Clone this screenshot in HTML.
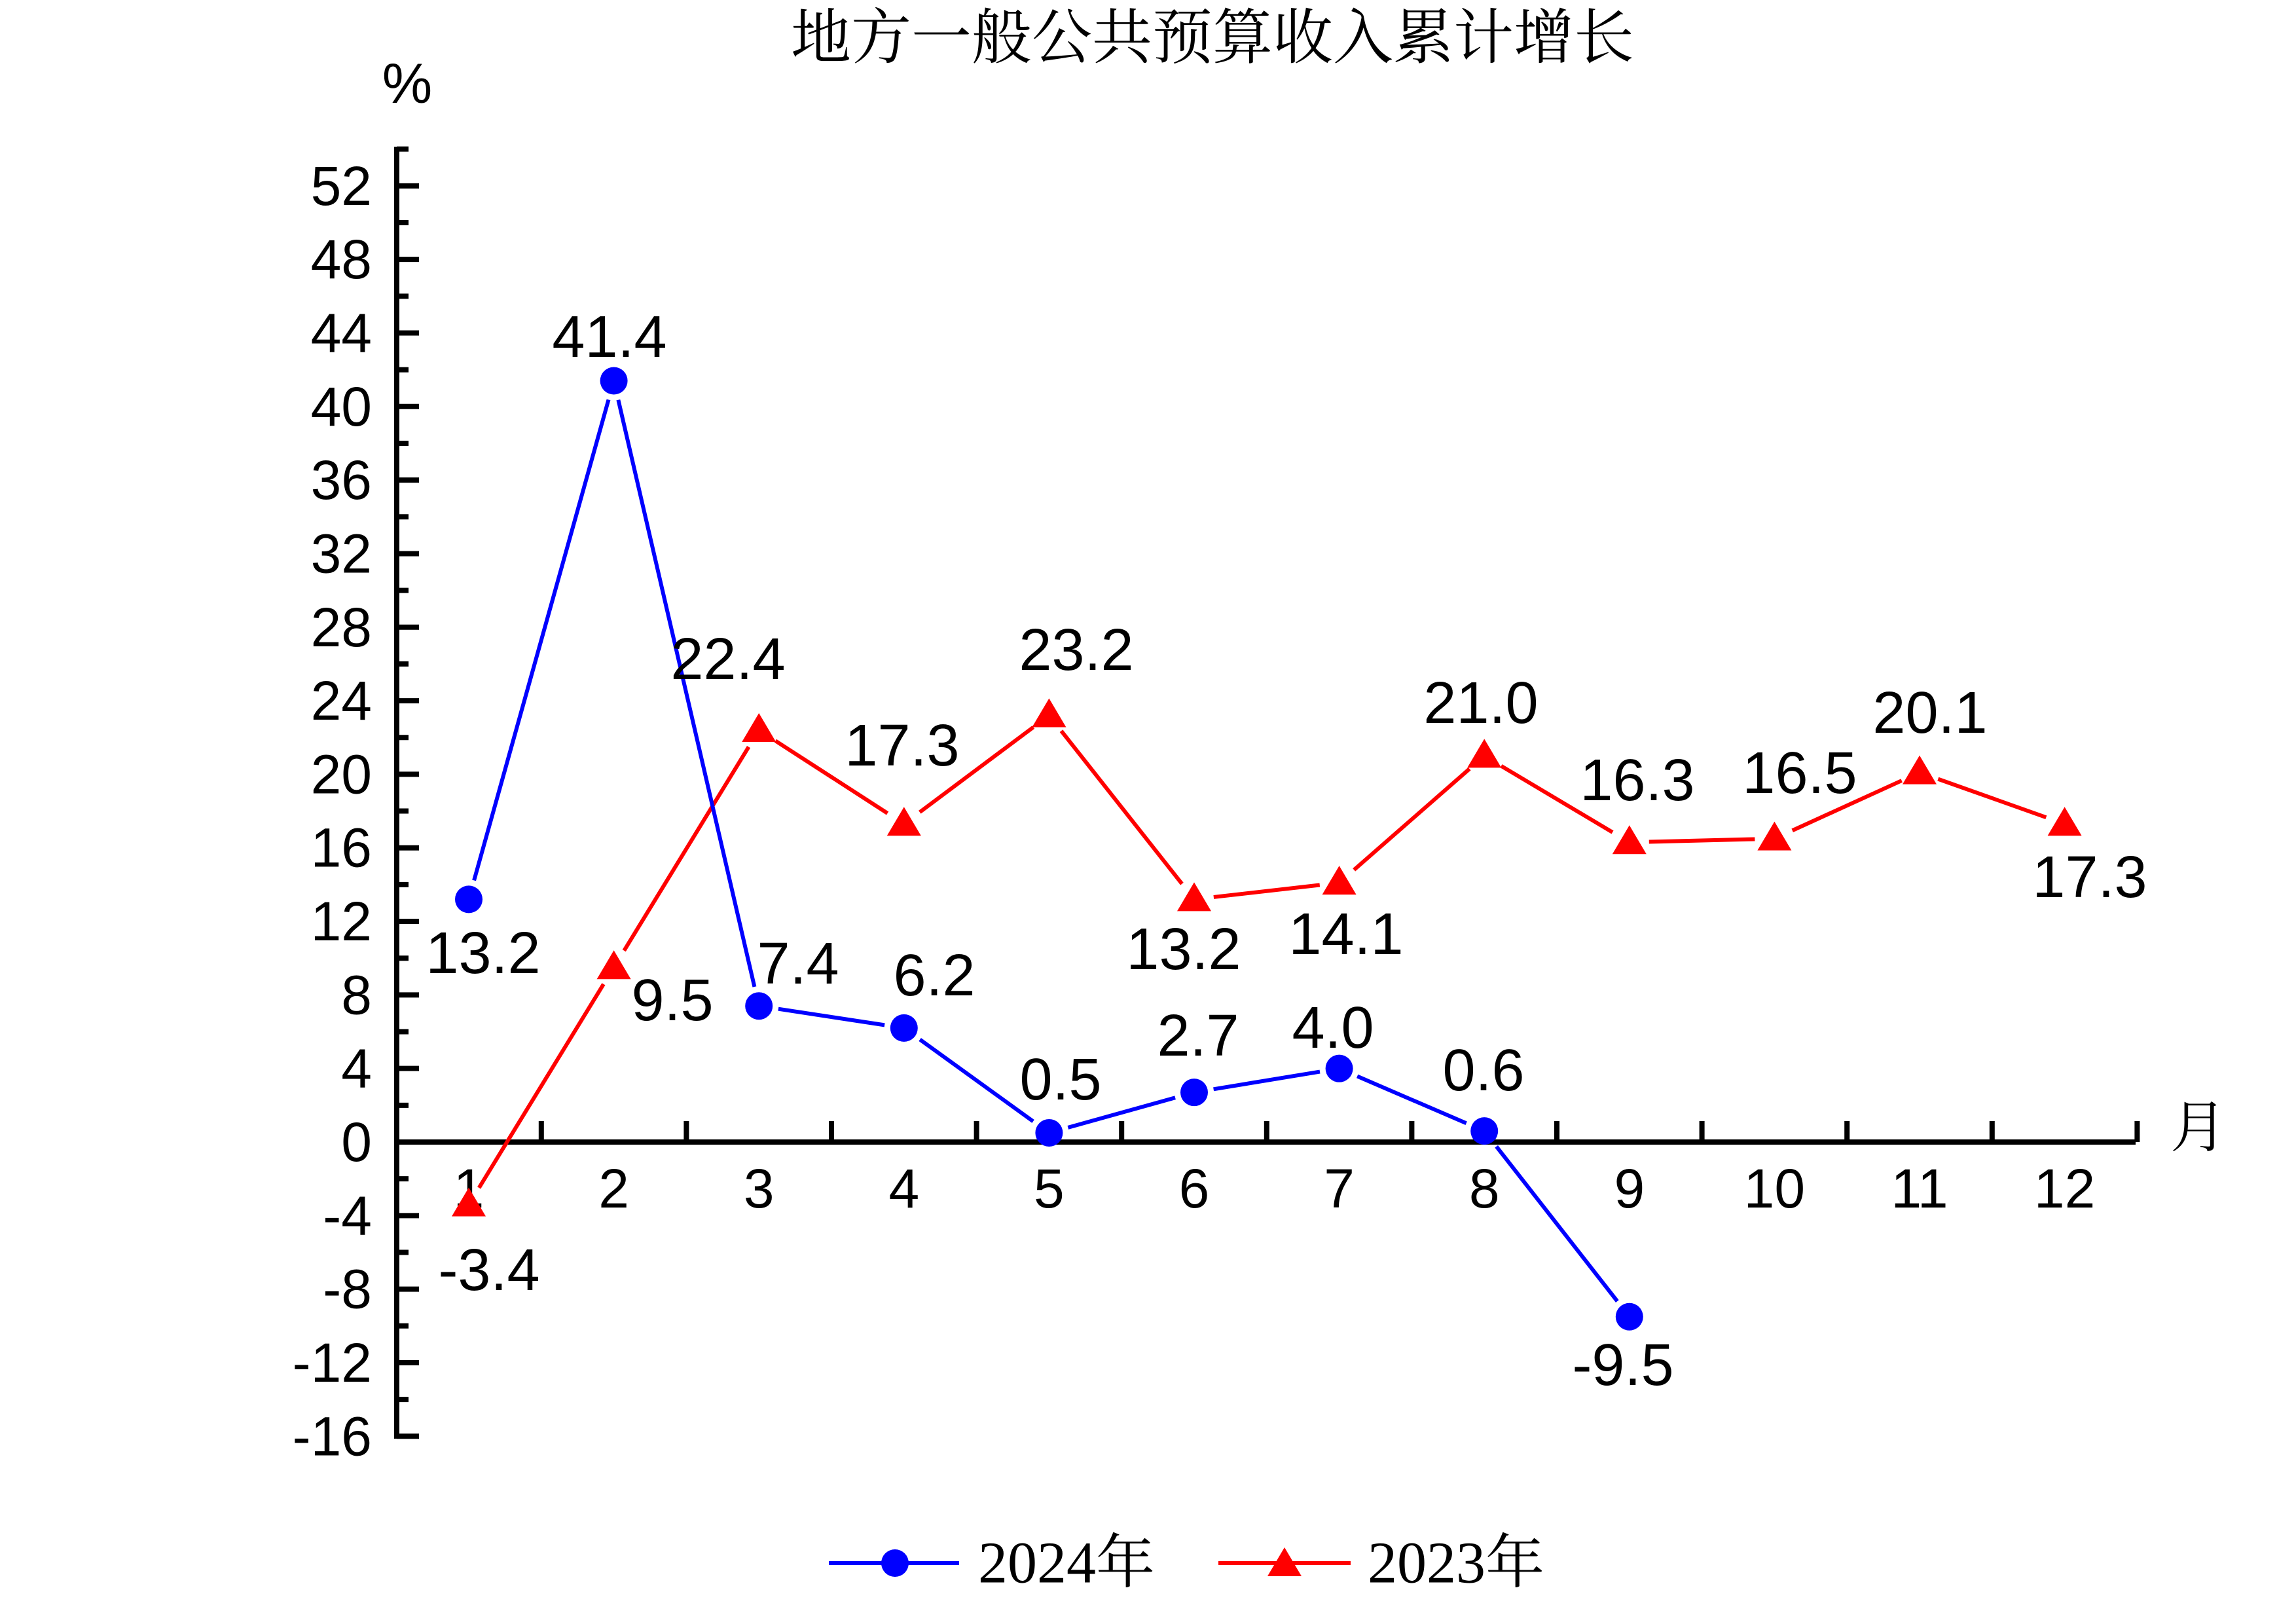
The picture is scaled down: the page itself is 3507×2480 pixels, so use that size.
<!DOCTYPE html>
<html><head><meta charset="utf-8"><style>
html,body{margin:0;padding:0;background:#fff;}
svg{display:block;}
.t{font-family:"Liberation Sans",Arial,sans-serif;fill:#000;}
.s{font-family:"Liberation Serif","Noto Serif CJK SC",serif;fill:#000;}
</style></head><body>
<svg width="3507" height="2480" viewBox="0 0 3507 2480" xmlns="http://www.w3.org/2000/svg">
<rect width="3507" height="2480" fill="#fff"/>
<text class="s" x="1852" y="58" font-size="92" text-anchor="middle" dominant-baseline="central">地方一般公共预算收入累计增长</text>
<text class="t" x="622" y="128" font-size="86" text-anchor="middle" dominant-baseline="central">%</text>
<text class="s" x="3358" y="1722" font-size="86" text-anchor="middle" dominant-baseline="central">月</text>
<g stroke="#000" stroke-width="8" fill="none" stroke-linecap="square">
<line x1="606" y1="228" x2="606" y2="2193"/>
<line x1="606" y1="1744" x2="3258" y2="1744"/>
</g>
<g id="yt" stroke="#000" stroke-width="8"></g>
<g id="yl" class="t" font-size="84" text-anchor="end"></g>
<g id="xt" stroke="#000" stroke-width="8"></g>
<g id="xl" class="t" font-size="84" text-anchor="middle"></g>
<g id="plot"></g>
<g id="lab" class="t" font-size="90" text-anchor="middle"></g>
<g>
<line x1="1266" y1="2387" x2="1465" y2="2387" stroke="#0000ff" stroke-width="6"/>
<circle cx="1367" cy="2387" r="21" fill="#0000ff"/>
<text class="s" x="1494" y="2387" font-size="90" dominant-baseline="central">2024年</text>
<line x1="1861" y1="2387" x2="2063" y2="2387" stroke="#ff0000" stroke-width="6"/>
<polygon points="1962,2363 1988,2407 1936,2407" fill="#ff0000"/>
<text class="s" x="2089" y="2387" font-size="90" dominant-baseline="central">2023年</text>
</g>
</svg>
<script>
var NS="http://www.w3.org/2000/svg";
function el(p,n,a,txt){var e=document.createElementNS(NS,n);for(var k in a)e.setAttribute(k,a[k]);if(txt!==undefined)e.textContent=txt;document.getElementById(p).appendChild(e);return e;}
var Y0=1744,U=28.08,X0=716,DX=221.6;
function Y(v){return Y0-v*U;}function X(i){return X0+(i-1)*DX;}
for(var v=-16;v<=54;v+=2){var maj=(v%4===0);el("yt","line",{x1:606,x2:606+(maj?34:18),y1:Y(v),y2:Y(v)});
 if(maj&&v<=52)el("yl","text",{x:568,y:Y(v),"dominant-baseline":"central"},String(v));}
for(var i=1;i<=12;i++){var tx=X0+(i-0.5)*DX;el("xt","line",{x1:tx,x2:tx,y1:1744,y2:1712});
 el("xl","text",{x:X(i),y:1815,"dominant-baseline":"central"},String(i));}
var a=[13.2,41.4,7.4,6.2,0.5,2.7,4.0,0.6,-9.5];
var b=[-3.4,9.5,22.4,17.3,23.2,13.2,14.1,21.0,16.3,16.5,20.1,17.3];
function seg(d,c){for(var i=0;i<d.length-1;i++){var x1=X(i+1),y1=Y(d[i]),x2=X(i+2),y2=Y(d[i+1]);var dx=x2-x1,dy=y2-y1,L=Math.sqrt(dx*dx+dy*dy),g=30;
 el("plot","line",{x1:x1+dx/L*g,y1:y1+dy/L*g,x2:x2-dx/L*g,y2:y2-dy/L*g,stroke:c,"stroke-width":6});}}
seg(b,"#ff0000");seg(a,"#0000ff");
b.forEach(function(v,i){var x=X(i+1),y=Y(v);el("plot","polygon",{points:x+","+(y-26)+" "+(x+26)+","+(y+18)+" "+(x-26)+","+(y+18),fill:"#ff0000"});});
a.forEach(function(v,i){el("plot","circle",{cx:X(i+1),cy:Y(v),r:21,fill:"#0000ff"});});
var L=[["13.2",738,1456],["41.4",931,515],["7.4",1219,1472],["6.2",1427,1490],["0.5",1620,1649],["2.7",1830,1582],["4.0",2036,1570],["0.6",2266,1635],["-9.5",2479,2085],
["-3.4",747,1940],["9.5",1027,1528],["22.4",1112,1007],["17.3",1378,1139],["23.2",1644,993],["13.2",1808,1450],["14.1",2056,1427],["21.0",2262,1074],["16.3",2501,1192],["16.5",2749,1181],["20.1",2948,1089],["17.3",3192,1340]];
L.forEach(function(l){el("lab","text",{x:l[1],y:l[2],"dominant-baseline":"central"},l[0]);});
</script>
</body></html>
